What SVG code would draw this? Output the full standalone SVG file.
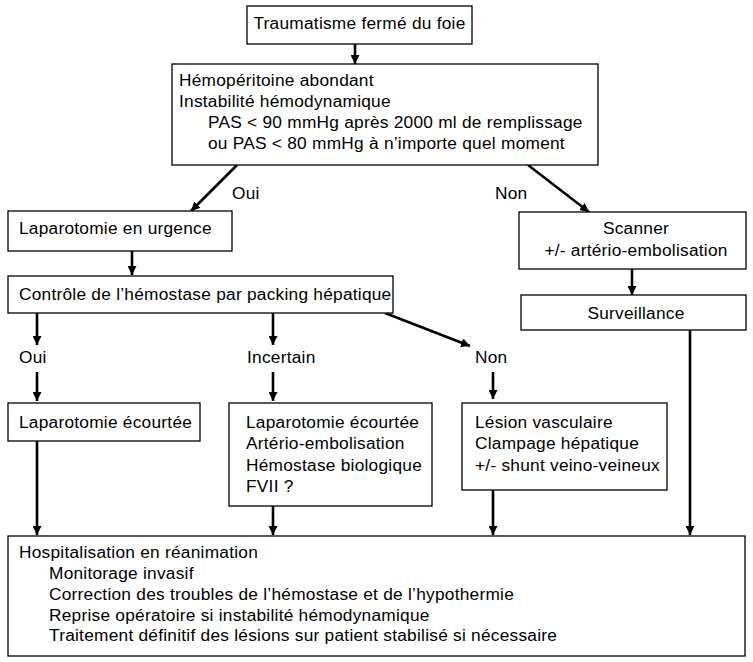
<svg xmlns="http://www.w3.org/2000/svg" width="753" height="662" viewBox="0 0 753 662">
<defs>
<marker id="ah" viewBox="0 0 10 10" refX="10" refY="5" markerWidth="9" markerHeight="9" markerUnits="userSpaceOnUse" orient="auto">
<path d="M0,0 L10,5 L0,10 z" fill="#000"/>
</marker>
<style>
.b{fill:#fff;stroke:#000;stroke-width:1.3}
text{font-family:"Liberation Sans",Arial,sans-serif;font-size:17.3px;letter-spacing:0.25px;fill:#000}
.c{stroke:#000;stroke-width:2.6;fill:none;marker-end:url(#ah)}
.m{text-anchor:middle}
</style>
</defs>
<rect width="753" height="662" fill="#fff"/>
<g id="connectors">
<line class="c" x1="355" y1="44" x2="355" y2="64"/>
<line class="c" x1="237" y1="165" x2="191" y2="211"/>
<line class="c" x1="528" y1="165" x2="589" y2="212"/>
<line class="c" x1="132" y1="251" x2="132" y2="275"/>
<line class="c" x1="632" y1="269" x2="632" y2="295"/>
<line class="c" x1="37" y1="313" x2="37" y2="345"/>
<line class="c" x1="273" y1="313" x2="273" y2="345"/>
<line class="c" x1="385" y1="313" x2="470" y2="346"/>
<line class="c" x1="37" y1="372" x2="37" y2="401"/>
<line class="c" x1="273" y1="372" x2="273" y2="401"/>
<line class="c" x1="493" y1="372" x2="493" y2="399"/>
<line class="c" x1="37" y1="441" x2="37" y2="535"/>
<line class="c" x1="273" y1="506" x2="273" y2="535"/>
<line class="c" x1="493" y1="490" x2="493" y2="535"/>
<line class="c" x1="690" y1="330" x2="690" y2="535"/>
<text x="232" y="199">Oui</text>
<text x="495" y="199">Non</text>
<text x="19" y="363">Oui</text>
<text x="247" y="363">Incertain</text>
<text x="475" y="363">Non</text>
</g>
<g id="n1"><rect class="b" x="247" y="6" width="225" height="38"/><text class="m" x="359.5" y="29">Traumatisme fermé du foie</text></g>
<g id="n2"><rect class="b" x="172" y="64" width="426" height="101"/>
<text x="179" y="86">Hémopéritoine abondant</text>
<text x="179" y="107">Instabilité hémodynamique</text>
<text x="208" y="128">PAS &lt; 90 mmHg après 2000 ml de remplissage</text>
<text x="208" y="149">ou PAS &lt; 80 mmHg à n’importe quel moment</text></g>
<g id="n3"><rect class="b" x="8" y="211" width="224" height="40"/><text x="19" y="234">Laparotomie en urgence</text></g>
<g id="n4"><rect class="b" x="519" y="212" width="227" height="57"/><text class="m" x="636" y="234">Scanner</text><text class="m" x="636" y="256">+/- artério-embolisation</text></g>
<g id="n5"><rect class="b" x="8" y="276" width="385" height="37"/><text x="19" y="300">Contrôle de l’hémostase par packing hépatique</text></g>
<g id="n6"><rect class="b" x="521" y="295" width="225" height="35"/><text class="m" x="636" y="319">Surveillance</text></g>
<g id="n7"><rect class="b" x="8" y="403" width="192" height="38"/><text x="19" y="428">Laparotomie écourtée</text></g>
<g id="n8"><rect class="b" x="229" y="403" width="203" height="103"/>
<text x="246" y="428">Laparotomie écourtée</text>
<text x="246" y="449">Artério-embolisation</text>
<text x="246" y="471">Hémostase biologique</text>
<text x="246" y="492">FVII ?</text></g>
<g id="n9"><rect class="b" x="462" y="403" width="205" height="87"/>
<text x="475" y="428">Lésion vasculaire</text>
<text x="475" y="449">Clampage hépatique</text>
<text x="475" y="471">+/- shunt veino-veineux</text></g>
<g id="n10"><rect class="b" x="8" y="536" width="737" height="120"/>
<text x="19" y="558">Hospitalisation en réanimation</text>
<text x="49" y="579">Monitorage invasif</text>
<text x="49" y="600">Correction des troubles de l’hémostase et de l’hypothermie</text>
<text x="49" y="621">Reprise opératoire si instabilité hémodynamique</text>
<text x="49" y="641">Traitement définitif des lésions sur patient stabilisé si nécessaire</text></g>
</svg>
